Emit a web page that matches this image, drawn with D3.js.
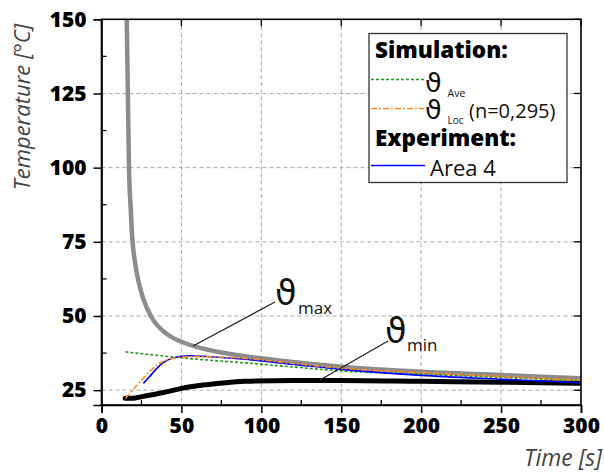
<!DOCTYPE html>
<html><head><meta charset="utf-8">
<script src="https://cdn.jsdelivr.net/npm/d3@7"></script>
<style>
html,body{margin:0;padding:0;background:#fff;}
svg{display:block;font-family:"Open Sans",sans-serif;}
</style></head>
<body><svg id="c" width="604" height="472"></svg>
<script>
// ---- data ----
const xTicks = [0, 50, 100, 150, 200, 250, 300];
const yTicks = [25, 50, 75, 100, 125, 150];
const xMinor = [25, 75, 125, 175, 225, 275];
const yMinor = [37.5, 62.5, 87.5, 112.5, 137.5];

const maxT = [15.8, 16.5, 17.2, 18.2, 19.3, 21, 23, 26, 31.4, 40, 50, 60, 75, 90, 110, 130, 150, 200, 250, 300];
const maxV = [150, 125, 100, 87, 76, 68, 62, 56, 49.5, 44.3, 41.3, 39.5, 37.7, 36.4, 35.1, 33.9, 32.9, 31.2, 30.1, 29];

const minT = [14.8, 20, 27, 35, 42, 50, 60, 70, 90, 120, 150, 200, 250, 300];
const minV = [22.3, 22.3, 23, 23.8, 24.6, 25.6, 26.5, 27.1, 28.0, 28.3, 28.3, 28.0, 27.7, 27.3];

const aveT = [15, 30, 50, 70, 90, 120, 150, 200, 250, 300];
const aveV = [37.9, 37.0, 35.9, 35.0, 34.2, 32.8, 31.5, 30.4, 29.3, 28.2];

const locT = [15, 20, 25, 30, 35, 40, 45, 50, 60, 70, 90, 120, 150, 200, 250, 300];
const locV = [22.3, 25.3, 28.4, 31.2, 33.6, 35.0, 35.8, 36.1, 36.3, 36.2, 35.7, 34.0, 32.4, 30.9, 29.6, 28.4];

const expT = [26.2, 30, 34, 38, 42, 46, 50, 55, 60, 70, 90, 120, 150, 200, 250, 300];
const expV = [27.3, 29.5, 32.0, 34.0, 35.3, 36.0, 36.4, 36.6, 36.5, 36.2, 35.4, 33.7, 32.0, 30.0, 28.7, 27.5];

// ---- layout ----
const svg = d3.select("#c");
const L = 101.5, R = 581, T = 19.3, B = 405;
const x = d3.scaleLinear().domain([0, 300]).range([L, R]);
const y = d3.scaleLinear().domain([20, 150]).range([B, T]);

// grid
const g = svg.append("g");
g.selectAll(".gx").data(xTicks.filter(d => d > 0 && d < 300)).enter().append("line")
  .attr("x1", d => x(d)).attr("x2", d => x(d)).attr("y1", T).attr("y2", B)
  .attr("stroke", "#a8a8a8").attr("stroke-width", 1).attr("stroke-dasharray", "4,3");
g.selectAll(".gy").data(yTicks.filter(d => d < 150)).enter().append("line")
  .attr("x1", L).attr("x2", R).attr("y1", d => y(d)).attr("y2", d => y(d))
  .attr("stroke", "#a8a8a8").attr("stroke-width", 1).attr("stroke-dasharray", "4,3");

// clip
svg.append("clipPath").attr("id", "clip").append("rect")
  .attr("x", L).attr("y", T).attr("width", R - L).attr("height", B - T);

const line = d3.line().x(d => x(d[0])).y(d => y(d[1])).curve(d3.curveMonotoneX);
const zip = (a, b) => a.map((v, i) => [v, b[i]]);

const plot = svg.append("g").attr("clip-path", "url(#clip)");
plot.append("path").attr("d", line(zip(maxT, maxV))).attr("fill", "none")
  .attr("stroke", "#8c8c8c").attr("stroke-width", 4.5);
plot.append("path").attr("d", line(zip(minT, minV))).attr("fill", "none")
  .attr("stroke", "#000").attr("stroke-width", 5).attr("stroke-linecap", "round");
plot.append("path").attr("d", line(zip(aveT, aveV))).attr("fill", "none")
  .attr("stroke", "#1f9a1f").attr("stroke-width", 1.6).attr("stroke-dasharray", "3,2");
plot.append("path").attr("d", line(zip(expT, expV))).attr("fill", "none")
  .attr("stroke", "#0000ff").attr("stroke-width", 1.6);
plot.append("path").attr("d", line(zip(locT, locV))).attr("fill", "none")
  .attr("stroke", "#ff8a1e").attr("stroke-width", 1.6).attr("stroke-dasharray", "6,2,2,2");

// frame
svg.append("rect").attr("x", L).attr("y", T).attr("width", R - L).attr("height", B - T)
  .attr("fill", "none").attr("stroke", "#000").attr("stroke-width", 1.6);

// axes
const xAxis = d3.axisBottom(x).tickValues(xTicks).tickSize(8).tickPadding(5);
const yAxis = d3.axisLeft(y).tickValues(yTicks).tickSize(8).tickPadding(7);
const gx = svg.append("g").attr("transform", `translate(0,${B})`).call(xAxis);
const gy = svg.append("g").attr("transform", `translate(${L},0)`).call(yAxis);
[gx, gy].forEach(a => {
  a.select(".domain").attr("stroke", "#000").attr("stroke-width", 1.6);
  a.selectAll(".tick line").attr("stroke", "#000").attr("stroke-width", 1.5);
  a.selectAll("text").attr("font-family", "Open Sans").attr("font-weight", 800)
    .attr("font-size", 21).attr("fill", "#000");
});
// inward minor ticks
svg.append("g").selectAll("line").data(xMinor).enter().append("line")
  .attr("x1", d => x(d)).attr("x2", d => x(d)).attr("y1", B).attr("y2", B - 5)
  .attr("stroke", "#000").attr("stroke-width", 1.3);
svg.append("g").selectAll("line").data(yMinor).enter().append("line")
  .attr("x1", L).attr("x2", L + 5).attr("y1", d => y(d)).attr("y2", d => y(d))
  .attr("stroke", "#000").attr("stroke-width", 1.3);
// mirror ticks top/right
svg.append("g").selectAll("line").data(xTicks).enter().append("line")
  .attr("x1", d => x(d)).attr("x2", d => x(d)).attr("y1", T).attr("y2", T + 7)
  .attr("stroke", "#000").attr("stroke-width", 1.3);
svg.append("g").selectAll("line").data(yTicks).enter().append("line")
  .attr("x1", R).attr("x2", R - 7).attr("y1", d => y(d)).attr("y2", d => y(d))
  .attr("stroke", "#000").attr("stroke-width", 1.3);

// axis titles
svg.append("text").attr("transform", `translate(30,107) rotate(-90)`)
  .attr("text-anchor", "middle").attr("font-style", "italic").attr("font-size", 22)
  .attr("fill", "#444").text("Temperature [°C]");
svg.append("text").attr("x", 602).attr("y", 466).attr("text-anchor", "end")
  .attr("font-style", "italic").attr("font-size", 23).attr("fill", "#444").text("Time [s]");

// symbol + subscript as a single text element
function symText(parent, x0, y0, symSize, sub, subX, subDy, subSize) {
  const t = parent.append("text").attr("x", x0).attr("y", y0).attr("fill", "#111");
  t.append("tspan").attr("font-family", "DejaVu Sans").attr("font-size", symSize).text("ϑ");
  t.append("tspan").attr("x", subX).attr("dy", subDy).attr("font-size", subSize).text(sub);
  return t;
}

// annotations
const ann = svg.append("g");
ann.append("line").attr("x1", 193).attr("y1", 346).attr("x2", 275).attr("y2", 302)
  .attr("stroke", "#222").attr("stroke-width", 1.3);
symText(ann, 275, 305, 35, "max", 298, 9, 17);
ann.append("line").attr("x1", 320).attr("y1", 380).attr("x2", 388).attr("y2", 341)
  .attr("stroke", "#222").attr("stroke-width", 1.3);
symText(ann, 385, 343, 35, "min", 407, 8, 17);

// legend
const lg = svg.append("g");
lg.append("rect").attr("x", 369).attr("y", 33.5).attr("width", 198).attr("height", 149)
  .attr("fill", "#fff").attr("stroke", "#333").attr("stroke-width", 1.3);
lg.append("text").attr("x", 375).attr("y", 58).attr("font-weight", 800).attr("font-size", 22.5)
  .attr("fill", "#000").text("Simulation:");
lg.append("line").attr("x1", 371).attr("x2", 424).attr("y1", 79.5).attr("y2", 79.5)
  .attr("stroke", "#1f9a1f").attr("stroke-width", 1.6).attr("stroke-dasharray", "3,2");
symText(lg, 425, 92, 27, "Ave", 447.5, 5, 10.5);
lg.append("line").attr("x1", 371).attr("x2", 424).attr("y1", 108.5).attr("y2", 108.5)
  .attr("stroke", "#ff8a1e").attr("stroke-width", 1.6).attr("stroke-dasharray", "6,2,2,2");
symText(lg, 425, 119, 27, "Loc", 447.5, 5, 10);
lg.append("text").attr("x", 469).attr("y", 118).attr("font-size", 20).attr("fill", "#111").text("(n=0,295)");
lg.append("text").attr("x", 375).attr("y", 146).attr("font-weight", 800).attr("font-size", 22.5)
  .attr("fill", "#000").text("Experiment:");
lg.append("line").attr("x1", 371).attr("x2", 425).attr("y1", 165.5).attr("y2", 165.5)
  .attr("stroke", "#0000ff").attr("stroke-width", 1.6);
lg.append("text").attr("x", 430).attr("y", 176).attr("font-size", 22).attr("fill", "#111").text("Area 4");
</script></body></html>
